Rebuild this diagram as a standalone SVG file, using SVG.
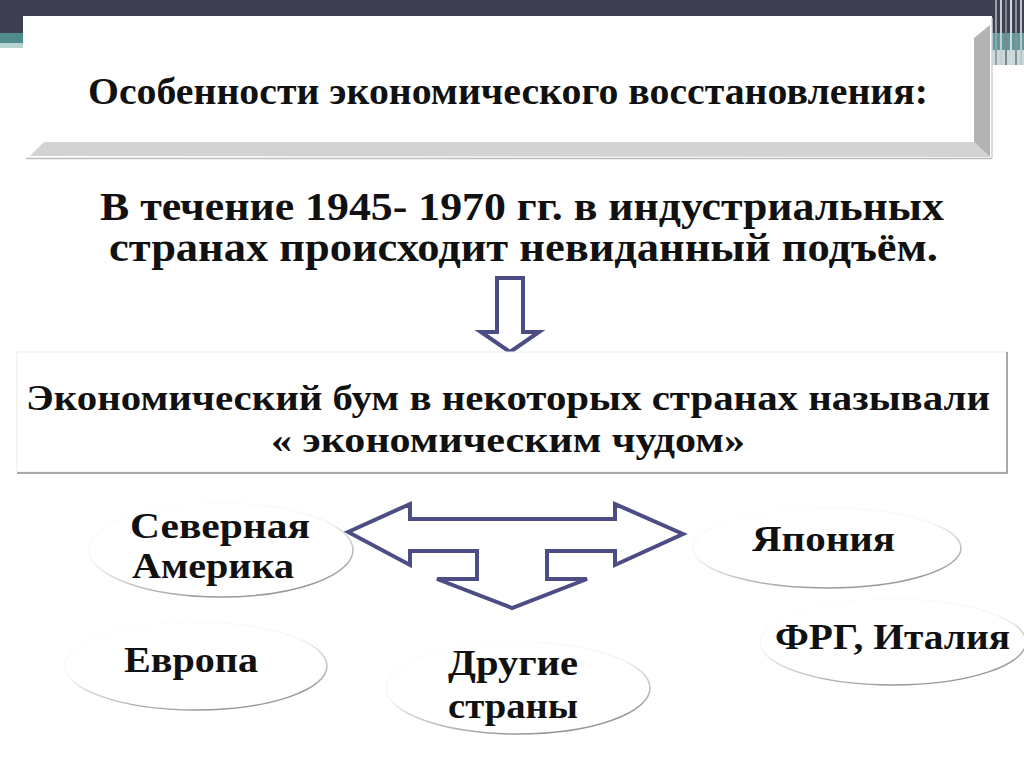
<svg xmlns="http://www.w3.org/2000/svg" width="1024" height="767" viewBox="0 0 1024 767">
<style>
.t{font-family:"Liberation Serif","DejaVu Serif",serif;font-weight:bold;fill:#111;}
.arrow{fill:#fff;stroke:#4d4d85;stroke-width:4;stroke-linejoin:miter;}
.ell{fill:#fff;stroke:url(#eg);stroke-width:1.5;}
</style>
<defs>
<linearGradient id="eg" x1="0" y1="0" x2="0.5" y2="1">
<stop offset="0" stop-color="#fff"/>
<stop offset="0.5" stop-color="#f6f6f6"/>
<stop offset="1" stop-color="#999"/>
</linearGradient>
</defs>
<rect width="1024" height="767" fill="#fff"/>
<g id="background-band">
<rect x="0" y="0" width="1024" height="17" fill="#3f3f52"/>
<rect x="0" y="0" width="23" height="33" fill="#3f3f52"/>
<rect x="0" y="33" width="23" height="10" fill="#4f8a8c"/>
<rect x="0" y="43" width="23" height="5" fill="#b9d3d3"/>
<rect x="992" y="0" width="32" height="33" fill="#3f3f52"/>
<rect x="992" y="33" width="32" height="17" fill="#5f9a9a"/>
<rect x="992" y="50" width="32" height="15" fill="#c6dada"/>
<g stroke-width="2">
<line x1="996" y1="0" x2="996" y2="65" stroke="#9aa0aa"/>
<line x1="1001" y1="0" x2="1001" y2="65" stroke="#c8ccd0"/>
<line x1="1006" y1="0" x2="1006" y2="65" stroke="#7f8590"/>
<line x1="1011" y1="0" x2="1011" y2="65" stroke="#d6d8dc"/>
<line x1="1016" y1="0" x2="1016" y2="65" stroke="#8a909a"/>
<line x1="1021" y1="0" x2="1021" y2="65" stroke="#c0c4c8"/>
</g>
</g>
<g id="title-box">
<rect x="23" y="16" width="969" height="142" fill="#fff"/>
<polygon points="30,156 990,157 974,142 44,142" fill="#d3d3d3"/>
<polygon points="990,25 990,157 974,142 974,38" fill="#b3b3b3"/>
<line x1="26" y1="158.5" x2="992" y2="158.5" stroke="#bcbcbc" stroke-width="1.5"/>
<line x1="992" y1="18" x2="992" y2="158" stroke="#d0d0d0" stroke-width="1.5"/>
<text class="t" x="88" y="104" font-size="38" textLength="840" lengthAdjust="spacingAndGlyphs">Особенности экономического восстановления:</text>
</g>
<g id="statement">
<text class="t" x="100" y="220" font-size="40" textLength="844" lengthAdjust="spacingAndGlyphs">В течение 1945- 1970 гг. в индустриальных</text>
<text class="t" x="109" y="261" font-size="40" textLength="829" lengthAdjust="spacingAndGlyphs">странах происходит невиданный подъём.</text>
</g>
<g id="connectors">
<polygon class="arrow" points="497,278 523,278 523,332 539,332 510,352 481,332 497,332" stroke-width="3"/>
<polygon class="arrow" points="348,532 410,504 410,519 615,519 615,504 683,534 615,565 615,551 547,551 547,579 587,579 512,608 437,579 477,579 477,551 410,551 410,565"/>
</g>
<g id="miracle-box">
<rect x="17" y="352" width="990" height="120" fill="#fff" stroke="#ececec" stroke-width="1"/>
<polyline points="1007,352 1007,473 17,473" fill="none" stroke="#a8a8a8" stroke-width="2"/>
<text class="t" x="26" y="410" font-size="36" textLength="964" lengthAdjust="spacingAndGlyphs">Экономический бум в некоторых странах называли</text>
<text class="t" x="271" y="452" font-size="36" textLength="474" lengthAdjust="spacingAndGlyphs">« экономическим чудом»</text>
</g>
<g id="node-north-america">
<ellipse class="ell" cx="221" cy="550" rx="132" ry="47"/>
<text class="t" x="130" y="538" font-size="35" textLength="180" lengthAdjust="spacingAndGlyphs">Северная</text>
<text class="t" x="132" y="578" font-size="35" textLength="162" lengthAdjust="spacingAndGlyphs">Америка</text>
</g>
<g id="node-japan">
<ellipse class="ell" cx="827" cy="548" rx="134" ry="40"/>
<text class="t" x="752" y="551" font-size="35" textLength="143" lengthAdjust="spacingAndGlyphs">Япония</text>
</g>
<g id="node-europe">
<ellipse class="ell" cx="196" cy="666" rx="131" ry="44"/>
<text class="t" x="124" y="672" font-size="35" textLength="134" lengthAdjust="spacingAndGlyphs">Европа</text>
</g>
<g id="node-others">
<ellipse class="ell" cx="518" cy="688" rx="132" ry="46"/>
<text class="t" x="448" y="675" font-size="35" textLength="130" lengthAdjust="spacingAndGlyphs">Другие</text>
<text class="t" x="448" y="718" font-size="35" textLength="130" lengthAdjust="spacingAndGlyphs">страны</text>
</g>
<g id="node-frg-italy">
<ellipse class="ell" cx="893" cy="642" rx="133" ry="43"/>
<text class="t" x="775" y="649" font-size="35" textLength="235" lengthAdjust="spacingAndGlyphs">ФРГ, Италия</text>
</g>
</svg>
